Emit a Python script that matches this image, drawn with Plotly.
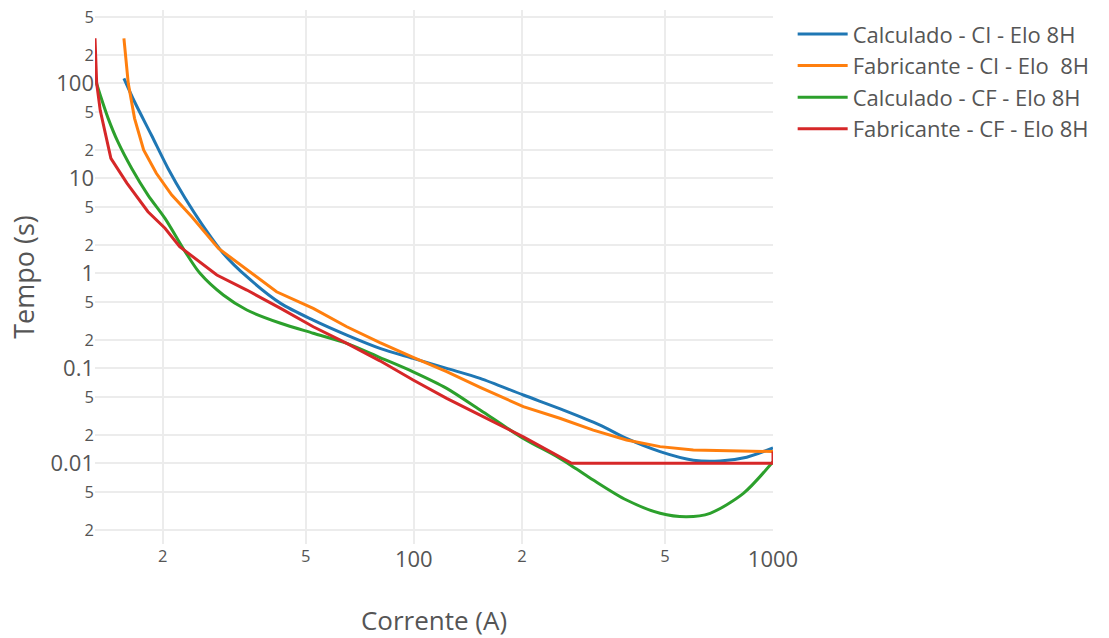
import numpy as np
import plotly.graph_objects as go

# Calculado - CI - Elo 8H
ci_calc_x = [15.6, 16.7, 18.6, 20.7, 23.1, 25.7, 29.5, 34.3, 42.6, 52.5, 65.1, 80.5,
             99.6, 123.5, 153, 201.8, 261, 330, 391, 485, 600, 712, 845, 1000]
ci_calc_y = [113, 64, 28.6, 12.7, 6.16, 3.3, 1.62, 0.921, 0.483, 0.322, 0.224, 0.1625,
             0.1274, 0.1, 0.0785, 0.0524, 0.0364, 0.0253, 0.0183, 0.0133, 0.0108, 0.0106, 0.0116, 0.0145]

# Fabricante - CI - Elo 8H
ci_fab_x = [15.6, 16.04, 16.7, 17.7, 19.2, 21.2, 24.1, 28.6, 41.5, 52.5, 65.1, 80.5,
            99.6, 123.5, 153, 201.8, 255, 316, 391, 485, 600, 743, 1000]
ci_fab_y = [298, 100, 42.8, 19.9, 11.3, 6.67, 3.94, 1.83, 0.64, 0.428, 0.274, 0.187,
            0.1306, 0.0921, 0.0631, 0.0395, 0.0298, 0.0224, 0.0176, 0.0150, 0.0138, 0.0136, 0.0133]

# Calculado - CF - Elo 8H
cf_calc_x = [12.96, 13.4, 14.1, 15.0, 16.4, 18.2, 20.3, 23.1, 25.4, 29.5, 34.3, 42.6, 52.5,
             65.1, 80.5, 99.6, 123.5, 153, 201.8, 250, 284, 316, 391, 485, 575, 668, 827, 1000]
cf_calc_y = [113, 75.3, 42.8, 24.3, 12.7, 6.67, 3.79, 1.69, 1.0, 0.591, 0.411, 0.298, 0.234,
             0.183, 0.13, 0.092, 0.0616, 0.0364, 0.0183, 0.0118, 0.0087, 0.00668, 0.00411, 0.00298,
             0.00274, 0.00298, 0.00483, 0.0104]

# Fabricante - CF - Elo 8H
cf_fab_x = [12.96, 13.1, 13.4, 14.35, 15.9, 18.2, 20.3, 22.3, 28.3, 34.3, 42.6, 52.5, 65.1,
            80.5, 99.6, 123.5, 153, 201.8, 275, 1000, 1000]
cf_fab_y = [298, 100, 52, 16.2, 8.9, 4.45, 2.98, 1.91, 0.96, 0.667, 0.428, 0.274, 0.183,
            0.12, 0.0753, 0.0483, 0.0322, 0.019, 0.01, 0.01, 0.0133]

names = ["Calculado - CI - Elo 8H", "Fabricante - CI - Elo \u00a08H",
         "Calculado - CF - Elo 8H", "Fabricante - CF - Elo 8H"]
colors = ["#1f77b4", "#ff7f0e", "#2ca02c", "#d62728"]
shapes = ["spline", "linear", "spline", "linear"]
series = [(ci_calc_x, ci_calc_y), (ci_fab_x, ci_fab_y), (cf_calc_x, cf_calc_y), (cf_fab_x, cf_fab_y)]

fig = go.Figure()
for (xs, ys), name, c, shp in zip(series, names, colors, shapes):
    fig.add_trace(go.Scatter(x=xs, y=ys, mode="lines", name=name,
                             line=dict(color=c, width=3, shape=shp, smoothing=0.8)))

axis_font = dict(family="Open Sans, sans-serif", size=22, color="#555")
fig.update_layout(
    width=1109, height=638,
    margin=dict(l=95, r=336, t=10, b=94),
    paper_bgcolor="white", plot_bgcolor="white",
    font=dict(family="Open Sans, sans-serif", color="#555"),
    showlegend=True,
    legend=dict(x=1.029, y=0.994, xanchor="left", yanchor="top", itemwidth=50,
                font=dict(family="Open Sans, sans-serif", size=22, color="#555"),
                bgcolor="rgba(0,0,0,0)"),
    xaxis=dict(type="log", range=[np.log10(12.96), 3], dtick="D2", automargin=False,
               showgrid=True, gridcolor="#ececec", gridwidth=1.5, zeroline=False,
               showline=False, tickfont=axis_font, ticks="",
               title=dict(text="Corrente (A)", font=dict(size=26, color="#555"), standoff=42)),
    yaxis=dict(type="log", range=[-2.849, 2.772], dtick="D2", automargin=False,
               showgrid=True, gridcolor="#ececec", gridwidth=1.5, zeroline=False,
               showline=False, tickfont=axis_font, ticks="",
               title=dict(text="Tempo (s)", font=dict(size=27, color="#555"), standoff=8)),
)

fig.write_html("out.html")
